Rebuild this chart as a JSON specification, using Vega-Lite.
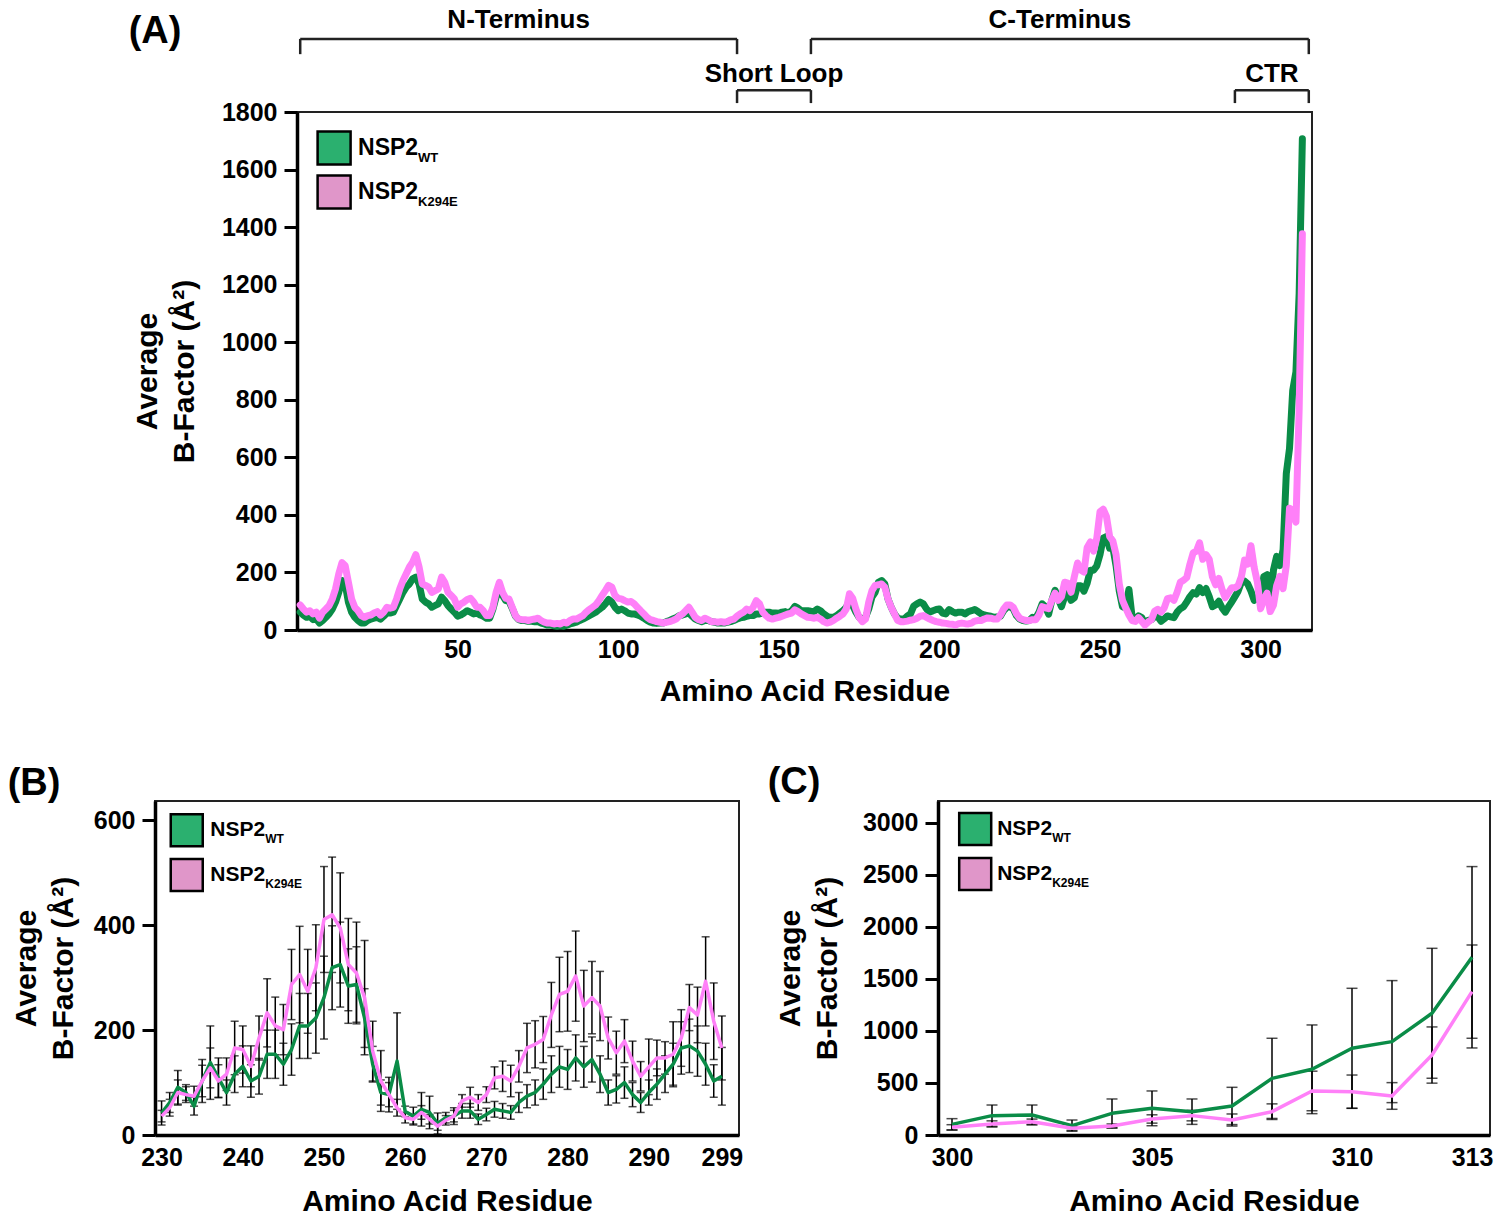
{
  "$schema": "https://vega.github.io/schema/vega-lite/v6.json",
  "background": "white",
  "padding": 5,
  "config": {
    "font": "Liberation Sans",
    "view": {"stroke": "#222222", "strokeWidth": 2},
    "axis": {
      "grid": false,
      "domainColor": "black", "domainWidth": 3.5,
      "tickColor": "black", "tickWidth": 3, "tickSize": 13,
      "labelFont": "Liberation Sans", "labelFontSize": 25, "labelFontWeight": "bold", "labelColor": "black",
      "labelPadding": 7, "labelOverlap": false, "labelFlush": false,
      "titleFont": "Liberation Sans", "titleFontSize": 30, "titleFontWeight": "bold", "titleColor": "black"
    },
    "axisX": {"ticks": false, "tickSize": 0, "titlePadding": 14},
    "axisY": {"titleLineHeight": 37},
    "text": {"font": "Liberation Sans", "fontWeight": "bold", "color": "black"}
  },
  "datasets": {
    "regions": [
      {"region": "N-Terminus", "start": 1, "end": 137, "tier": 1},
      {"region": "C-Terminus", "start": 160, "end": 315, "tier": 1},
      {"region": "Short Loop", "start": 137, "end": 160, "tier": 2},
      {"region": "CTR", "start": 292, "end": 315, "tier": 2}
    ],
    "wt": [
      {"residue":1,"b":62},{"residue":2,"b":52},{"residue":3,"b":44},{"residue":4,"b":48},{"residue":5,"b":36},{"residue":6,"b":38},{"residue":7,"b":24},{"residue":8,"b":33},{"residue":9,"b":44},{"residue":10,"b":56},
      {"residue":11,"b":73},{"residue":12,"b":97},{"residue":13,"b":131},{"residue":14,"b":172},{"residue":15,"b":160},{"residue":16,"b":97},{"residue":17,"b":62},{"residue":18,"b":44},{"residue":19,"b":33},{"residue":20,"b":24},
      {"residue":21,"b":24},{"residue":22,"b":33},{"residue":23,"b":38},{"residue":24,"b":41},{"residue":25,"b":44},{"residue":26,"b":38},{"residue":27,"b":48},{"residue":28,"b":59},{"residue":29,"b":59},{"residue":30,"b":62},
      {"residue":31,"b":85},{"residue":32,"b":108},{"residue":33,"b":131},{"residue":34,"b":149},{"residue":35,"b":160},{"residue":36,"b":178},{"residue":37,"b":184},{"residue":38,"b":160},{"residue":39,"b":108},{"residue":40,"b":97},
      {"residue":41,"b":91},{"residue":42,"b":79},{"residue":43,"b":85},{"residue":44,"b":91},{"residue":45,"b":114},{"residue":46,"b":102},{"residue":47,"b":85},{"residue":48,"b":73},{"residue":49,"b":62},{"residue":50,"b":48},
      {"residue":51,"b":52},{"residue":52,"b":59},{"residue":53,"b":67},{"residue":54,"b":62},{"residue":55,"b":56},{"residue":56,"b":59},{"residue":57,"b":52},{"residue":58,"b":48},{"residue":59,"b":41},{"residue":60,"b":41},
      {"residue":61,"b":73},{"residue":62,"b":115},{"residue":63,"b":145},{"residue":64,"b":120},{"residue":65,"b":102},{"residue":66,"b":100},{"residue":67,"b":75},{"residue":68,"b":48},{"residue":69,"b":36},{"residue":70,"b":33},
      {"residue":71,"b":33},{"residue":72,"b":30},{"residue":73,"b":30},{"residue":74,"b":29},{"residue":75,"b":29},{"residue":76,"b":24},{"residue":77,"b":21},{"residue":78,"b":17},{"residue":79,"b":17},{"residue":80,"b":15},
      {"residue":81,"b":13},{"residue":82,"b":15},{"residue":83,"b":13},{"residue":84,"b":17},{"residue":85,"b":21},{"residue":86,"b":24},{"residue":87,"b":27},{"residue":88,"b":33},{"residue":89,"b":38},{"residue":90,"b":44},
      {"residue":91,"b":50},{"residue":92,"b":56},{"residue":93,"b":62},{"residue":94,"b":71},{"residue":95,"b":79},{"residue":96,"b":91},{"residue":97,"b":106},{"residue":98,"b":97},{"residue":99,"b":79},{"residue":100,"b":67},
      {"residue":101,"b":73},{"residue":102,"b":67},{"residue":103,"b":59},{"residue":104,"b":56},{"residue":105,"b":56},{"residue":106,"b":52},{"residue":107,"b":48},{"residue":108,"b":41},{"residue":109,"b":33},{"residue":110,"b":27},
      {"residue":111,"b":24},{"residue":112,"b":23},{"residue":113,"b":24},{"residue":114,"b":24},{"residue":115,"b":29},{"residue":116,"b":33},{"residue":117,"b":38},{"residue":118,"b":43},{"residue":119,"b":50},{"residue":120,"b":52},
      {"residue":121,"b":56},{"residue":122,"b":59},{"residue":123,"b":48},{"residue":124,"b":38},{"residue":125,"b":33},{"residue":126,"b":29},{"residue":127,"b":33},{"residue":128,"b":33},{"residue":129,"b":29},{"residue":130,"b":27},
      {"residue":131,"b":24},{"residue":132,"b":24},{"residue":133,"b":24},{"residue":134,"b":27},{"residue":135,"b":29},{"residue":136,"b":33},{"residue":137,"b":38},{"residue":138,"b":42},{"residue":139,"b":44},{"residue":140,"b":48},
      {"residue":141,"b":50},{"residue":142,"b":50},{"residue":143,"b":56},{"residue":144,"b":56},{"residue":145,"b":59},{"residue":146,"b":62},{"residue":147,"b":62},{"residue":148,"b":59},{"residue":149,"b":59},{"residue":150,"b":58},
      {"residue":151,"b":62},{"residue":152,"b":64},{"residue":153,"b":59},{"residue":154,"b":67},{"residue":155,"b":82},{"residue":156,"b":76},{"residue":157,"b":67},{"residue":158,"b":67},{"residue":159,"b":67},{"residue":160,"b":65},
      {"residue":161,"b":64},{"residue":162,"b":73},{"residue":163,"b":67},{"residue":164,"b":56},{"residue":165,"b":48},{"residue":166,"b":44},{"residue":167,"b":44},{"residue":168,"b":50},{"residue":169,"b":59},{"residue":170,"b":67},
      {"residue":171,"b":79},{"residue":172,"b":99},{"residue":173,"b":85},{"residue":174,"b":62},{"residue":175,"b":44},{"residue":176,"b":33},{"residue":177,"b":44},{"residue":178,"b":73},{"residue":179,"b":114},{"residue":180,"b":131},
      {"residue":181,"b":166},{"residue":182,"b":172},{"residue":183,"b":160},{"residue":184,"b":108},{"residue":185,"b":79},{"residue":186,"b":56},{"residue":187,"b":41},{"residue":188,"b":38},{"residue":189,"b":38},{"residue":190,"b":48},
      {"residue":191,"b":56},{"residue":192,"b":83},{"residue":193,"b":91},{"residue":194,"b":97},{"residue":195,"b":91},{"residue":196,"b":73},{"residue":197,"b":62},{"residue":198,"b":67},{"residue":199,"b":71},{"residue":200,"b":73},
      {"residue":201,"b":59},{"residue":202,"b":56},{"residue":203,"b":71},{"residue":204,"b":64},{"residue":205,"b":59},{"residue":206,"b":62},{"residue":207,"b":62},{"residue":208,"b":56},{"residue":209,"b":64},{"residue":210,"b":67},
      {"residue":211,"b":71},{"residue":212,"b":64},{"residue":213,"b":56},{"residue":214,"b":52},{"residue":215,"b":50},{"residue":216,"b":48},{"residue":217,"b":44},{"residue":218,"b":45},{"residue":219,"b":48},{"residue":220,"b":67},
      {"residue":221,"b":79},{"residue":222,"b":81},{"residue":223,"b":73},{"residue":224,"b":50},{"residue":225,"b":38},{"residue":226,"b":33},{"residue":227,"b":31},{"residue":228,"b":33},{"residue":229,"b":44},
      {"residue":230,"b":42,"sd":23},{"residue":231,"b":62,"sd":19},{"residue":232,"b":91,"sd":32},{"residue":233,"b":81,"sd":15},{"residue":234,"b":55,"sd":17},{"residue":235,"b":103,"sd":41},{"residue":236,"b":138,"sd":70},{"residue":237,"b":109,"sd":38},{"residue":238,"b":81,"sd":24},{"residue":239,"b":116,"sd":35},
      {"residue":240,"b":131,"sd":39},{"residue":241,"b":103,"sd":31},{"residue":242,"b":112,"sd":34},{"residue":243,"b":154,"sd":46},{"residue":244,"b":154,"sd":46},{"residue":245,"b":135,"sd":40},{"residue":246,"b":163,"sd":49},{"residue":247,"b":208,"sd":62},{"residue":248,"b":208,"sd":62},{"residue":249,"b":223,"sd":67},
      {"residue":250,"b":262,"sd":79},{"residue":251,"b":319,"sd":80},{"residue":252,"b":325,"sd":81},{"residue":253,"b":284,"sd":71},{"residue":254,"b":287,"sd":72},{"residue":255,"b":223,"sd":56},{"residue":256,"b":135,"sd":34},{"residue":257,"b":81,"sd":24},{"residue":258,"b":77,"sd":23},{"residue":259,"b":141,"sd":92},
      {"residue":260,"b":45,"sd":10},{"residue":261,"b":36,"sd":17},{"residue":262,"b":49,"sd":32},{"residue":263,"b":43,"sd":31},{"residue":264,"b":22,"sd":20},{"residue":265,"b":33,"sd":10},{"residue":266,"b":36,"sd":16},{"residue":267,"b":46,"sd":14},{"residue":268,"b":46,"sd":14},{"residue":269,"b":30,"sd":10},
      {"residue":270,"b":39,"sd":12},{"residue":271,"b":49,"sd":15},{"residue":272,"b":46,"sd":14},{"residue":273,"b":43,"sd":13},{"residue":274,"b":62,"sd":19},{"residue":275,"b":74,"sd":22},{"residue":276,"b":81,"sd":24},{"residue":277,"b":97,"sd":29},{"residue":278,"b":116,"sd":35},{"residue":279,"b":130,"sd":39},
      {"residue":280,"b":125,"sd":38},{"residue":281,"b":147,"sd":44},{"residue":282,"b":130,"sd":39},{"residue":283,"b":144,"sd":43},{"residue":284,"b":116,"sd":35},{"residue":285,"b":81,"sd":24},{"residue":286,"b":87,"sd":26},{"residue":287,"b":100,"sd":30},{"residue":288,"b":77,"sd":23},{"residue":289,"b":62,"sd":19},
      {"residue":290,"b":81,"sd":24},{"residue":291,"b":97,"sd":29},{"residue":292,"b":116,"sd":35},{"residue":293,"b":135,"sd":40},{"residue":294,"b":166,"sd":50},{"residue":295,"b":170,"sd":51},{"residue":296,"b":160,"sd":48},{"residue":297,"b":135,"sd":40},{"residue":298,"b":103,"sd":31},{"residue":299,"b":112,"sd":55},
      {"residue":300,"b":102,"sd":55},{"residue":301,"b":186,"sd":102},{"residue":302,"b":192,"sd":96},{"residue":303,"b":90,"sd":54},{"residue":304,"b":208,"sd":138},{"residue":305,"b":256,"sd":167},{"residue":306,"b":224,"sd":122},{"residue":307,"b":279,"sd":179},{"residue":308,"b":544,"sd":385},{"residue":309,"b":631,"sd":426},
      {"residue":310,"b":833,"sd":576},{"residue":311,"b":897,"sd":586},{"residue":312,"b":1169,"sd":624},{"residue":313,"b":1707,"sd":871}
    ],
    "k294e": [
      {"residue":1,"b":87},{"residue":2,"b":73},{"residue":3,"b":62},{"residue":4,"b":67},{"residue":5,"b":56},{"residue":6,"b":62},{"residue":7,"b":41},{"residue":8,"b":62},{"residue":9,"b":73},{"residue":10,"b":85},
      {"residue":11,"b":108},{"residue":12,"b":143},{"residue":13,"b":195},{"residue":14,"b":234},{"residue":15,"b":224},{"residue":16,"b":166},{"residue":17,"b":108},{"residue":18,"b":79},{"residue":19,"b":67},{"residue":20,"b":50},
      {"residue":21,"b":44},{"residue":22,"b":50},{"residue":23,"b":52},{"residue":24,"b":59},{"residue":25,"b":64},{"residue":26,"b":52},{"residue":27,"b":62},{"residue":28,"b":79},{"residue":29,"b":76},{"residue":30,"b":79},
      {"residue":31,"b":108},{"residue":32,"b":143},{"residue":33,"b":172},{"residue":34,"b":195},{"residue":35,"b":219},{"residue":36,"b":236},{"residue":37,"b":262},{"residue":38,"b":219},{"residue":39,"b":160},{"residue":40,"b":155},
      {"residue":41,"b":149},{"residue":42,"b":131},{"residue":43,"b":137},{"residue":44,"b":143},{"residue":45,"b":184},{"residue":46,"b":166},{"residue":47,"b":131},{"residue":48,"b":120},{"residue":49,"b":108},{"residue":50,"b":79},
      {"residue":51,"b":91},{"residue":52,"b":97},{"residue":53,"b":106},{"residue":54,"b":110},{"residue":55,"b":97},{"residue":56,"b":79},{"residue":57,"b":79},{"residue":58,"b":67},{"residue":59,"b":50},{"residue":60,"b":50},
      {"residue":61,"b":79},{"residue":62,"b":131},{"residue":63,"b":166},{"residue":64,"b":131},{"residue":65,"b":110},{"residue":66,"b":108},{"residue":67,"b":79},{"residue":68,"b":50},{"residue":69,"b":38},{"residue":70,"b":36},
      {"residue":71,"b":36},{"residue":72,"b":33},{"residue":73,"b":36},{"residue":74,"b":38},{"residue":75,"b":41},{"residue":76,"b":33},{"residue":77,"b":27},{"residue":78,"b":24},{"residue":79,"b":24},{"residue":80,"b":21},
      {"residue":81,"b":23},{"residue":82,"b":21},{"residue":83,"b":27},{"residue":84,"b":24},{"residue":85,"b":33},{"residue":86,"b":38},{"residue":87,"b":38},{"residue":88,"b":44},{"residue":89,"b":50},{"residue":90,"b":62},
      {"residue":91,"b":71},{"residue":92,"b":79},{"residue":93,"b":87},{"residue":94,"b":102},{"residue":95,"b":120},{"residue":96,"b":137},{"residue":97,"b":155},{"residue":98,"b":149},{"residue":99,"b":120},{"residue":100,"b":110},
      {"residue":101,"b":108},{"residue":102,"b":102},{"residue":103,"b":97},{"residue":104,"b":99},{"residue":105,"b":91},{"residue":106,"b":79},{"residue":107,"b":67},{"residue":108,"b":56},{"residue":109,"b":44},{"residue":110,"b":36},
      {"residue":111,"b":33},{"residue":112,"b":29},{"residue":113,"b":27},{"residue":114,"b":24},{"residue":115,"b":27},{"residue":116,"b":29},{"residue":117,"b":33},{"residue":118,"b":38},{"residue":119,"b":48},{"residue":120,"b":56},
      {"residue":121,"b":67},{"residue":122,"b":79},{"residue":123,"b":62},{"residue":124,"b":44},{"residue":125,"b":36},{"residue":126,"b":33},{"residue":127,"b":41},{"residue":128,"b":36},{"residue":129,"b":29},{"residue":130,"b":29},
      {"residue":131,"b":27},{"residue":132,"b":29},{"residue":133,"b":27},{"residue":134,"b":29},{"residue":135,"b":35},{"residue":136,"b":38},{"residue":137,"b":48},{"residue":138,"b":56},{"residue":139,"b":62},{"residue":140,"b":73},
      {"residue":141,"b":67},{"residue":142,"b":79},{"residue":143,"b":102},{"residue":144,"b":91},{"residue":145,"b":62},{"residue":146,"b":50},{"residue":147,"b":41},{"residue":148,"b":38},{"residue":149,"b":41},{"residue":150,"b":44},
      {"residue":151,"b":48},{"residue":152,"b":52},{"residue":153,"b":56},{"residue":154,"b":59},{"residue":155,"b":70},{"residue":156,"b":64},{"residue":157,"b":56},{"residue":158,"b":50},{"residue":159,"b":44},{"residue":160,"b":43},
      {"residue":161,"b":41},{"residue":162,"b":44},{"residue":163,"b":38},{"residue":164,"b":29},{"residue":165,"b":24},{"residue":166,"b":27},{"residue":167,"b":33},{"residue":168,"b":41},{"residue":169,"b":48},{"residue":170,"b":56},
      {"residue":171,"b":73},{"residue":172,"b":126},{"residue":173,"b":110},{"residue":174,"b":73},{"residue":175,"b":44},{"residue":176,"b":29},{"residue":177,"b":38},{"residue":178,"b":97},{"residue":179,"b":137},{"residue":180,"b":155},
      {"residue":181,"b":157},{"residue":182,"b":160},{"residue":183,"b":149},{"residue":184,"b":108},{"residue":185,"b":79},{"residue":186,"b":56},{"residue":187,"b":33},{"residue":188,"b":29},{"residue":189,"b":29},{"residue":190,"b":31},
      {"residue":191,"b":34},{"residue":192,"b":36},{"residue":193,"b":41},{"residue":194,"b":48},{"residue":195,"b":50},{"residue":196,"b":44},{"residue":197,"b":38},{"residue":198,"b":33},{"residue":199,"b":29},{"residue":200,"b":27},
      {"residue":201,"b":24},{"residue":202,"b":23},{"residue":203,"b":21},{"residue":204,"b":20},{"residue":205,"b":17},{"residue":206,"b":22},{"residue":207,"b":24},{"residue":208,"b":22},{"residue":209,"b":21},{"residue":210,"b":24},
      {"residue":211,"b":31},{"residue":212,"b":33},{"residue":213,"b":33},{"residue":214,"b":38},{"residue":215,"b":42},{"residue":216,"b":41},{"residue":217,"b":38},{"residue":218,"b":38},{"residue":219,"b":52},{"residue":220,"b":73},
      {"residue":221,"b":87},{"residue":222,"b":87},{"residue":223,"b":79},{"residue":224,"b":56},{"residue":225,"b":41},{"residue":226,"b":36},{"residue":227,"b":33},{"residue":228,"b":33},{"residue":229,"b":36},
      {"residue":230,"b":36,"sd":11},{"residue":231,"b":52,"sd":16},{"residue":232,"b":81,"sd":24},{"residue":233,"b":77,"sd":15},{"residue":234,"b":74,"sd":19},{"residue":235,"b":103,"sd":30},{"residue":236,"b":128,"sd":38},{"residue":237,"b":103,"sd":31},{"residue":238,"b":116,"sd":31},{"residue":239,"b":166,"sd":51},
      {"residue":240,"b":163,"sd":45},{"residue":241,"b":131,"sd":39},{"residue":242,"b":185,"sd":42},{"residue":243,"b":233,"sd":65},{"residue":244,"b":208,"sd":55},{"residue":245,"b":201,"sd":48},{"residue":246,"b":287,"sd":67},{"residue":247,"b":306,"sd":92},{"residue":248,"b":274,"sd":80},{"residue":249,"b":319,"sd":82},
      {"residue":250,"b":411,"sd":101},{"residue":251,"b":420,"sd":110},{"residue":252,"b":395,"sd":105},{"residue":253,"b":325,"sd":88},{"residue":254,"b":309,"sd":97},{"residue":255,"b":262,"sd":109},{"residue":256,"b":160,"sd":57},{"residue":257,"b":103,"sd":58},{"residue":258,"b":77,"sd":33},{"residue":259,"b":52,"sd":16},
      {"residue":260,"b":33,"sd":10},{"residue":261,"b":30,"sd":9},{"residue":262,"b":43,"sd":13},{"residue":263,"b":30,"sd":9},{"residue":264,"b":17,"sd":8},{"residue":265,"b":28,"sd":9},{"residue":266,"b":36,"sd":11},{"residue":267,"b":65,"sd":12},{"residue":268,"b":72,"sd":19},{"residue":269,"b":62,"sd":15},
      {"residue":270,"b":77,"sd":15},{"residue":271,"b":109,"sd":21},{"residue":272,"b":112,"sd":29},{"residue":273,"b":103,"sd":30},{"residue":274,"b":131,"sd":30},{"residue":275,"b":166,"sd":47},{"residue":276,"b":173,"sd":45},{"residue":277,"b":182,"sd":44},{"residue":278,"b":229,"sd":62},{"residue":279,"b":268,"sd":71},
      {"residue":280,"b":274,"sd":76},{"residue":281,"b":303,"sd":86},{"residue":282,"b":246,"sd":68},{"residue":283,"b":262,"sd":69},{"residue":284,"b":246,"sd":66},{"residue":285,"b":185,"sd":40},{"residue":286,"b":157,"sd":41},{"residue":287,"b":179,"sd":41},{"residue":288,"b":141,"sd":38},{"residue":289,"b":112,"sd":28},
      {"residue":290,"b":130,"sd":53},{"residue":291,"b":147,"sd":34},{"residue":292,"b":147,"sd":31},{"residue":293,"b":154,"sd":62},{"residue":294,"b":185,"sd":54},{"residue":295,"b":243,"sd":44},{"residue":296,"b":229,"sd":53},{"residue":297,"b":293,"sd":85},{"residue":298,"b":217,"sd":73},{"residue":299,"b":166,"sd":61},
      {"residue":300,"b":74,"sd":25},{"residue":301,"b":106,"sd":30},{"residue":302,"b":128,"sd":25},{"residue":303,"b":64,"sd":20},{"residue":304,"b":86,"sd":20},{"residue":305,"b":154,"sd":40},{"residue":306,"b":186,"sd":50},{"residue":307,"b":144,"sd":58},{"residue":308,"b":224,"sd":75},{"residue":309,"b":423,"sd":190},
      {"residue":310,"b":416,"sd":160},{"residue":311,"b":375,"sd":128},{"residue":312,"b":768,"sd":270},{"residue":313,"b":1377,"sd":448}
    ]
  },
  "spacing": 55,
  "vconcat": [
    {
      "spacing": 0,
      "hconcat": [
        {"width": 122, "height": 10, "data": {"values": []}, "mark": "point", "view": {"stroke": null, "fill": "white"}},
        {
          "width": 1015,
          "height": 518,
          "layer": [
            {
              "data": {"name": "wt"},
              "mark": {"type": "line", "color": "#0a8c47", "strokeWidth": 7, "strokeJoin": "round", "strokeCap": "round"},
              "encoding": {
                "x": {"field": "residue", "type": "quantitative", "scale": {"domain": [0, 316], "nice": false, "zero": false},
                      "axis": {"values": [50, 100, 150, 200, 250, 300], "format": "d", "title": "Amino Acid Residue"}},
                "y": {"field": "b", "type": "quantitative", "scale": {"domain": [0, 1800], "nice": false},
                      "axis": {"values": [0, 200, 400, 600, 800, 1000, 1200, 1400, 1600, 1800], "format": "d", "title": ["Average", "B-Factor (Å²)"], "titlePadding": 22}}
              }
            },
            {
              "data": {"name": "k294e"},
              "mark": {"type": "line", "color": "#ff80f8", "strokeWidth": 7, "strokeJoin": "round", "strokeCap": "round"},
              "encoding": {
                "x": {"field": "residue", "type": "quantitative"},
                "y": {"field": "b", "type": "quantitative"}
              }
            },
            {
              "data": {"name": "regions"},
              "transform": [{"filter": "datum.tier == 1"}],
              "mark": {"type": "rule", "color": "#222222", "strokeWidth": 2.5},
              "encoding": {"x": {"field": "start", "type": "quantitative"}, "x2": {"field": "end"}, "y": {"datum": 2054, "type": "quantitative"}}
            },
            {
              "data": {"name": "regions"},
              "transform": [{"filter": "datum.tier == 1"}, {"fold": ["start", "end"], "as": ["edge", "pos"]}],
              "mark": {"type": "rule", "color": "#222222", "strokeWidth": 2.5},
              "encoding": {"x": {"field": "pos", "type": "quantitative"}, "y": {"datum": 2054, "type": "quantitative"}, "y2": {"datum": 2001}}
            },
            {
              "data": {"name": "regions"},
              "transform": [{"filter": "datum.tier == 1"}, {"fold": ["start", "end"], "as": ["edge", "pos"]}],
              "mark": {"type": "text", "fontSize": 26, "baseline": "middle"},
              "encoding": {"x": {"aggregate": "mean", "field": "pos", "type": "quantitative"}, "y": {"datum": 2120, "type": "quantitative"}, "text": {"field": "region"}}
            },
            {
              "data": {"name": "regions"},
              "transform": [{"filter": "datum.tier == 2"}],
              "mark": {"type": "rule", "color": "#222222", "strokeWidth": 2.5},
              "encoding": {"x": {"field": "start", "type": "quantitative"}, "x2": {"field": "end"}, "y": {"datum": 1876, "type": "quantitative"}}
            },
            {
              "data": {"name": "regions"},
              "transform": [{"filter": "datum.tier == 2"}, {"fold": ["start", "end"], "as": ["edge", "pos"]}],
              "mark": {"type": "rule", "color": "#222222", "strokeWidth": 2.5},
              "encoding": {"x": {"field": "pos", "type": "quantitative"}, "y": {"datum": 1876, "type": "quantitative"}, "y2": {"datum": 1831}}
            },
            {
              "data": {"name": "regions"},
              "transform": [{"filter": "datum.tier == 2"}, {"fold": ["start", "end"], "as": ["edge", "pos"]}],
              "mark": {"type": "text", "fontSize": 26, "baseline": "middle"},
              "encoding": {"x": {"aggregate": "mean", "field": "pos", "type": "quantitative"}, "y": {"datum": 1932, "type": "quantitative"}, "text": {"field": "region"}}
            },
            {
              "data": {"values": [{"panel": "(A)"}]},
              "mark": {"type": "text", "fontSize": 38, "baseline": "middle"},
              "encoding": {"x": {"datum": -44.2, "type": "quantitative"}, "y": {"datum": 2078, "type": "quantitative"}, "text": {"field": "panel"}}
            },
            {
              "data": {"values": [{}]},
              "mark": {"type": "point", "shape": "square", "filled": true, "size": 1089, "fill": "#2bb06f", "stroke": "black", "strokeWidth": 2.5, "opacity": 1},
              "encoding": {"x": {"datum": 11.55, "type": "quantitative"}, "y": {"datum": 1675, "type": "quantitative"}}
            },
            {
              "data": {"values": [{}]},
              "mark": {"type": "point", "shape": "square", "filled": true, "size": 1089, "fill": "#e096c9", "stroke": "black", "strokeWidth": 2.5, "opacity": 1},
              "encoding": {"x": {"datum": 11.55, "type": "quantitative"}, "y": {"datum": 1522, "type": "quantitative"}}
            },
            {
              "data": {"values": [{}]},
              "mark": {"type": "text", "text": "NSP2", "fontSize": 23, "align": "left", "baseline": "middle"},
              "encoding": {"x": {"datum": 19.0, "type": "quantitative"}, "y": {"datum": 1675, "type": "quantitative"}}
            },
            {
              "data": {"values": [{}]},
              "mark": {"type": "text", "text": "WT", "fontSize": 13, "align": "left", "baseline": "middle", "dx": 60, "dy": 10},
              "encoding": {"x": {"datum": 19.0, "type": "quantitative"}, "y": {"datum": 1675, "type": "quantitative"}}
            },
            {
              "data": {"values": [{}]},
              "mark": {"type": "text", "text": "NSP2", "fontSize": 23, "align": "left", "baseline": "middle"},
              "encoding": {"x": {"datum": 19.0, "type": "quantitative"}, "y": {"datum": 1522, "type": "quantitative"}}
            },
            {
              "data": {"values": [{}]},
              "mark": {"type": "text", "text": "K294E", "fontSize": 13, "align": "left", "baseline": "middle", "dx": 60, "dy": 10},
              "encoding": {"x": {"datum": 19.0, "type": "quantitative"}, "y": {"datum": 1522, "type": "quantitative"}}
            }
          ]
        }
      ]
    },
    {
      "spacing": 0,
      "hconcat": [
        {"width": 1, "height": 10, "data": {"values": []}, "mark": "point", "view": {"stroke": null, "fill": "white"}},
        {
          "spacing": 22,
          "hconcat": [
            {
              "width": 584,
              "height": 334,
              "layer": [
                {
                  "data": {"name": "wt"},
                  "transform": [{"filter": "datum.residue >= 230 && datum.residue <= 299"}],
                  "mark": {"type": "errorbar", "color": "black", "thickness": 1.5, "ticks": {"size": 8}},
                  "encoding": {
                    "x": {"field": "residue", "type": "quantitative", "scale": {"domain": [229.19, 301.11], "nice": false, "zero": false},
                          "title": "Amino Acid Residue",
                          "axis": {"values": [230, 240, 250, 260, 270, 280, 290, 299], "format": "d", "labelPadding": 10, "titlePadding": 16}},
                    "y": {"field": "b", "type": "quantitative", "scale": {"domain": [0, 637], "nice": false},
                          "title": ["Average", "B-Factor (Å²)"],
                          "axis": {"values": [0, 200, 400, 600], "format": "d", "titlePadding": 15}},
                    "yError": {"field": "sd"}
                  }
                },
                {
                  "data": {"name": "k294e"},
                  "transform": [{"filter": "datum.residue >= 230 && datum.residue <= 299"}],
                  "mark": {"type": "errorbar", "color": "black", "thickness": 1.5, "ticks": {"size": 8}},
                  "encoding": {
                    "x": {"field": "residue", "type": "quantitative", "title": "Amino Acid Residue"},
                    "y": {"field": "b", "type": "quantitative", "title": ["Average", "B-Factor (Å²)"]},
                    "yError": {"field": "sd"}
                  }
                },
                {
                  "data": {"name": "wt"},
                  "transform": [{"filter": "datum.residue >= 230 && datum.residue <= 299"}],
                  "mark": {"type": "line", "color": "#0a8c47", "strokeWidth": 3.5, "strokeJoin": "round"},
                  "encoding": {"x": {"field": "residue", "type": "quantitative"}, "y": {"field": "b", "type": "quantitative"}}
                },
                {
                  "data": {"name": "k294e"},
                  "transform": [{"filter": "datum.residue >= 230 && datum.residue <= 299"}],
                  "mark": {"type": "line", "color": "#ff80f8", "strokeWidth": 3.5, "strokeJoin": "round"},
                  "encoding": {"x": {"field": "residue", "type": "quantitative"}, "y": {"field": "b", "type": "quantitative"}}
                },
                {
                  "data": {"values": [{"panel": "(B)"}]},
                  "mark": {"type": "text", "fontSize": 38, "baseline": "middle"},
                  "encoding": {"x": {"datum": 214.3, "type": "quantitative"}, "y": {"datum": 669, "type": "quantitative"}, "text": {"field": "panel"}}
                },
                {
                  "data": {"values": [{}]},
                  "mark": {"type": "point", "shape": "square", "filled": true, "size": 1024, "fill": "#2bb06f", "stroke": "black", "strokeWidth": 2.5, "opacity": 1},
                  "encoding": {"x": {"datum": 233.1, "type": "quantitative"}, "y": {"datum": 581, "type": "quantitative"}}
                },
                {
                  "data": {"values": [{}]},
                  "mark": {"type": "point", "shape": "square", "filled": true, "size": 1024, "fill": "#e096c9", "stroke": "black", "strokeWidth": 2.5, "opacity": 1},
                  "encoding": {"x": {"datum": 233.1, "type": "quantitative"}, "y": {"datum": 496, "type": "quantitative"}}
                },
                {
                  "data": {"values": [{}]},
                  "mark": {"type": "text", "text": "NSP2", "fontSize": 21, "align": "left", "baseline": "middle"},
                  "encoding": {"x": {"datum": 236.0, "type": "quantitative"}, "y": {"datum": 581, "type": "quantitative"}}
                },
                {
                  "data": {"values": [{}]},
                  "mark": {"type": "text", "text": "WT", "fontSize": 12, "align": "left", "baseline": "middle", "dx": 55, "dy": 9},
                  "encoding": {"x": {"datum": 236.0, "type": "quantitative"}, "y": {"datum": 581, "type": "quantitative"}}
                },
                {
                  "data": {"values": [{}]},
                  "mark": {"type": "text", "text": "NSP2", "fontSize": 21, "align": "left", "baseline": "middle"},
                  "encoding": {"x": {"datum": 236.0, "type": "quantitative"}, "y": {"datum": 496, "type": "quantitative"}}
                },
                {
                  "data": {"values": [{}]},
                  "mark": {"type": "text", "text": "K294E", "fontSize": 12, "align": "left", "baseline": "middle", "dx": 55, "dy": 9},
                  "encoding": {"x": {"datum": 236.0, "type": "quantitative"}, "y": {"datum": 496, "type": "quantitative"}}
                }
              ]
            },
            {
              "width": 552,
              "height": 334,
              "layer": [
                {
                  "data": {"name": "wt"},
                  "transform": [{"filter": "datum.residue >= 300"}],
                  "mark": {"type": "errorbar", "color": "black", "thickness": 1.5, "ticks": {"size": 11}},
                  "encoding": {
                    "x": {"field": "residue", "type": "quantitative", "scale": {"domain": [299.65, 313.45], "nice": false, "zero": false},
                          "title": "Amino Acid Residue",
                          "axis": {"values": [300, 305, 310, 313], "format": "d", "labelPadding": 10, "titlePadding": 16}},
                    "y": {"field": "b", "type": "quantitative", "scale": {"domain": [0, 3208], "nice": false},
                          "title": ["Average", "B-Factor (Å²)"],
                          "axis": {"values": [0, 500, 1000, 1500, 2000, 2500, 3000], "format": "d", "titlePadding": 20}},
                    "yError": {"field": "sd"}
                  }
                },
                {
                  "data": {"name": "k294e"},
                  "transform": [{"filter": "datum.residue >= 300"}],
                  "mark": {"type": "errorbar", "color": "black", "thickness": 1.5, "ticks": {"size": 11}},
                  "encoding": {
                    "x": {"field": "residue", "type": "quantitative", "title": "Amino Acid Residue"},
                    "y": {"field": "b", "type": "quantitative", "title": ["Average", "B-Factor (Å²)"]},
                    "yError": {"field": "sd"}
                  }
                },
                {
                  "data": {"name": "wt"},
                  "transform": [{"filter": "datum.residue >= 300"}],
                  "mark": {"type": "line", "color": "#0a8c47", "strokeWidth": 3.5, "strokeJoin": "round"},
                  "encoding": {"x": {"field": "residue", "type": "quantitative"}, "y": {"field": "b", "type": "quantitative"}}
                },
                {
                  "data": {"name": "k294e"},
                  "transform": [{"filter": "datum.residue >= 300"}],
                  "mark": {"type": "line", "color": "#ff80f8", "strokeWidth": 3.5, "strokeJoin": "round"},
                  "encoding": {"x": {"field": "residue", "type": "quantitative"}, "y": {"field": "b", "type": "quantitative"}}
                },
                {
                  "data": {"values": [{"panel": "(C)"}]},
                  "mark": {"type": "text", "fontSize": 38, "baseline": "middle"},
                  "encoding": {"x": {"datum": 296.05, "type": "quantitative"}, "y": {"datum": 3381, "type": "quantitative"}, "text": {"field": "panel"}}
                },
                {
                  "data": {"values": [{}]},
                  "mark": {"type": "point", "shape": "square", "filled": true, "size": 1024, "fill": "#2bb06f", "stroke": "black", "strokeWidth": 2.5, "opacity": 1},
                  "encoding": {"x": {"datum": 300.58, "type": "quantitative"}, "y": {"datum": 2939, "type": "quantitative"}}
                },
                {
                  "data": {"values": [{}]},
                  "mark": {"type": "point", "shape": "square", "filled": true, "size": 1024, "fill": "#e096c9", "stroke": "black", "strokeWidth": 2.5, "opacity": 1},
                  "encoding": {"x": {"datum": 300.58, "type": "quantitative"}, "y": {"datum": 2507, "type": "quantitative"}}
                },
                {
                  "data": {"values": [{}]},
                  "mark": {"type": "text", "text": "NSP2", "fontSize": 21, "align": "left", "baseline": "middle"},
                  "encoding": {"x": {"datum": 301.13, "type": "quantitative"}, "y": {"datum": 2939, "type": "quantitative"}}
                },
                {
                  "data": {"values": [{}]},
                  "mark": {"type": "text", "text": "WT", "fontSize": 12, "align": "left", "baseline": "middle", "dx": 55, "dy": 9},
                  "encoding": {"x": {"datum": 301.13, "type": "quantitative"}, "y": {"datum": 2939, "type": "quantitative"}}
                },
                {
                  "data": {"values": [{}]},
                  "mark": {"type": "text", "text": "NSP2", "fontSize": 21, "align": "left", "baseline": "middle"},
                  "encoding": {"x": {"datum": 301.13, "type": "quantitative"}, "y": {"datum": 2507, "type": "quantitative"}}
                },
                {
                  "data": {"values": [{}]},
                  "mark": {"type": "text", "text": "K294E", "fontSize": 12, "align": "left", "baseline": "middle", "dx": 55, "dy": 9},
                  "encoding": {"x": {"datum": 301.13, "type": "quantitative"}, "y": {"datum": 2507, "type": "quantitative"}}
                }
              ]
            }
          ]
        }
      ]
    }
  ]
}
